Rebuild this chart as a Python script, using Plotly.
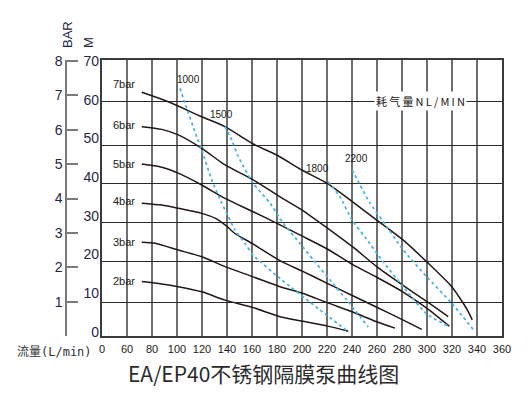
import plotly.graph_objects as go

# ---------------- data ----------------
x_tickvals = [40, 60, 80, 100, 120, 140, 160, 180, 200, 220, 240, 260, 280, 300, 320, 340, 360]
x_ticktext = ["0", "60", "80", "100", "120", "140", "160", "180", "200", "220", "240", "260",
              "280", "300", "320", "340", "360"]
m_ticks = [0, 10, 20, 30, 40, 50, 60, 70]
bar_ticks = [0, 1, 2, 3, 4, 5, 6, 7, 8]
bar_ticktext = ["", "1", "2", "3", "4", "5", "6", "7", "8"]
grid_m = [8.62, 19.02, 28.91, 38.80, 48.19, 59.35]

bar7_x = [71.8, 93.0, 119.8, 138.4, 161.0, 179.8, 199.8, 220.2, 238.4, 259.8, 281.0, 299.8, 319.8, 329.0, 333.0, 336.2]
bar7_y = [61.8, 59.4, 55.6, 53.1, 48.7, 45.9, 42.1, 38.7, 34.5, 29.4, 24.3, 18.8, 12.5, 8.3, 6.2, 4.1]
bar6_x = [71.8, 87.8, 101.0, 119.8, 138.4, 161.0, 182.4, 199.8, 220.6, 240.6, 259.8, 280.6, 300.0, 317.0]
bar6_y = [53.1, 52.4, 51.0, 47.6, 43.4, 39.6, 35.3, 32.0, 27.3, 22.6, 17.6, 12.9, 8.7, 4.9]
bar5_x = [71.8, 87.8, 101.0, 119.8, 138.4, 161.0, 182.4, 199.8, 220.6, 240.6, 259.8, 280.6, 300.0, 317.8]
bar5_y = [43.6, 42.8, 41.3, 38.3, 34.9, 31.5, 28.2, 25.4, 22.0, 18.1, 14.9, 11.2, 7.0, 2.5]
bar4_x = [71.8, 87.8, 101.0, 119.8, 130.4, 138.4, 146.4, 161.0, 182.4, 199.8, 220.6, 240.6, 259.8, 280.6, 295.8]
bar4_y = [33.7, 33.2, 32.4, 31.1, 29.9, 28.2, 26.0, 23.3, 19.1, 16.5, 13.3, 10.2, 7.3, 4.1, 1.7]
bar3_x = [71.8, 82.4, 101.0, 119.8, 138.4, 161.0, 182.4, 199.8, 220.6, 240.6, 259.8, 274.4]
bar3_y = [23.8, 23.5, 21.8, 20.1, 17.6, 15.0, 12.5, 10.9, 8.4, 6.1, 3.6, 2.0]
bar2_x = [71.8, 87.8, 101.0, 119.8, 138.4, 161.0, 182.4, 199.8, 220.6, 237.0]
bar2_y = [13.8, 13.2, 12.5, 11.2, 9.1, 7.2, 4.9, 3.8, 2.5, 1.2]
bar_names = ["7bar", "6bar", "5bar", "4bar", "3bar", "2bar"]
bar_label_y = [63.9, 53.5, 43.7, 34.2, 23.8, 13.9]

air1000_x = [102.4, 106.4, 115.8, 119.8, 127.8, 135.8, 141.0, 146.4, 154.4, 161.0, 182.4, 214.4, 237.0]
air1000_y = [62.8, 59.0, 50.5, 47.2, 39.6, 33.7, 30.3, 26.9, 23.5, 20.5, 14.6, 6.6, 1.1]
air1500_x = [138.4, 143.8, 149.0, 161.0, 174.4, 185.0, 198.4, 209.0, 222.4, 235.8, 253.0]
air1500_y = [53.1, 49.7, 45.5, 38.7, 33.7, 28.6, 23.5, 19.3, 14.2, 9.1, 2.3]
air1800_x = [221.0, 230.4, 240.0, 250.4, 263.8, 279.8, 299.8, 317.0]
air1800_y = [39.1, 35.3, 29.4, 25.1, 19.3, 12.9, 5.6, 2.5]
air2200_x = [240.2, 246.4, 254.4, 265.0, 281.0, 299.8, 319.8, 338.4]
air2200_y = [42.1, 38.3, 33.7, 29.0, 21.8, 15.0, 8.3, 1.1]
air_names = ["1000", "1500", "1800", "2200"]
air_label_x = [109.4, 135.2, 212.0, 243.2]
air_label_y = [65.1, 56.2, 42.4, 45.1]

# ---------------- figure ----------------
W, H = 530, 397
ML, MR, MT, MB = 40, 28, 60, 61
PW = W - ML - MR
PH = H - MT - MB


def px_x(p):
    return (p - ML) / PW


def px_y(p):
    return (H - MB - p) / PH


ink = "#231815"
navy = "#1f2747"
blue = "#4db2e6"
latin = "Liberation Sans, Arial, sans-serif"
cjk = "Noto Sans CJK SC, sans-serif"

fig = go.Figure()

bars = [(bar7_x, bar7_y), (bar6_x, bar6_y), (bar5_x, bar5_y),
        (bar4_x, bar4_y), (bar3_x, bar3_y), (bar2_x, bar2_y)]
for (xs, ys), name in zip(bars, bar_names):
    fig.add_trace(go.Scatter(x=xs, y=ys, mode="lines", name=name,
                             line=dict(color=ink, width=1.5, shape="spline", smoothing=0.7),
                             showlegend=False, hoverinfo="skip"))

airs = [(air1000_x, air1000_y), (air1500_x, air1500_y),
        (air1800_x, air1800_y), (air2200_x, air2200_y)]
for (xs, ys), name in zip(airs, air_names):
    fig.add_trace(go.Scatter(x=xs, y=ys, mode="lines", name=name,
                             line=dict(color=blue, width=1.8, dash="dot", shape="spline", smoothing=0.5),
                             showlegend=False, hoverinfo="skip"))

# dummy traces so the extra label axes are drawn
fig.add_trace(go.Scatter(x=[None], y=[None], yaxis="y2", showlegend=False, hoverinfo="skip"))
fig.add_trace(go.Scatter(x=[None], y=[None], yaxis="y3", showlegend=False, hoverinfo="skip"))

for name, yv in zip(bar_names, bar_label_y):
    fig.add_annotation(x=68, y=yv, text=name, showarrow=False, xanchor="right", yanchor="middle",
                       font=dict(family=latin, size=11, color=ink))
for name, xv, yv in zip(air_names, air_label_x, air_label_y):
    fig.add_annotation(x=xv, y=yv, text=name, showarrow=False, xanchor="center", yanchor="middle",
                       font=dict(family=latin, size=10, color=ink))

fig.add_annotation(x=294.4, y=59.6, text="耗\u2009气\u2009量\u2009N\u2009L\u2009/\u2009M\u2009I\u2009N",
                   showarrow=False, xanchor="center", yanchor="middle", bgcolor="white",
                   borderpad=1, font=dict(family=cjk, size=11, color=ink))

fig.add_annotation(xref="paper", yref="paper", x=px_x(67), y=px_y(35), text="BAR", textangle=-90,
                   showarrow=False, xanchor="center", yanchor="middle",
                   font=dict(family=latin, size=13, color=navy))
fig.add_annotation(xref="paper", yref="paper", x=px_x(89), y=px_y(43), text="M", textangle=-90,
                   showarrow=False, xanchor="center", yanchor="middle",
                   font=dict(family=latin, size=13, color=navy))
fig.add_annotation(xref="paper", yref="paper", x=px_x(54), y=px_y(352), text="流量(L/min)",
                   showarrow=False, xanchor="center", yanchor="middle",
                   font=dict(family="DejaVu Sans Mono, Noto Sans CJK SC, monospace", size=12, color="#333333"))
fig.add_annotation(xref="paper", yref="paper", x=px_x(263), y=px_y(373),
                   text="EA/EP40不锈钢隔膜泵曲线图",
                   showarrow=False, xanchor="center", yanchor="middle",
                   font=dict(family=cjk, size=21, color="#2b2b2b"))

fig.update_layout(
    width=W, height=H,
    margin=dict(l=ML, r=MR, t=MT, b=MB, pad=0),
    paper_bgcolor="white", plot_bgcolor="white",
    xaxis=dict(domain=[px_x(102), 1], range=[40, 360], tickvals=x_tickvals, ticktext=x_ticktext,
               showgrid=True, gridcolor="#6e6e6e", gridwidth=1.5, zeroline=False,
               showline=True, mirror=True, linecolor="#3a3a3a", linewidth=1.5,
               ticks="", ticklabelstandoff=2,
               tickfont=dict(family=latin, size=11, color=ink)),
    yaxis=dict(domain=[0, 1], range=[0, 70], tickvals=grid_m, showticklabels=False,
               showgrid=True, gridcolor="#2a2a2a", gridwidth=1.4, zeroline=False,
               showline=True, mirror=True, linecolor="#3a3a3a", linewidth=1.5, ticks=""),
    yaxis2=dict(overlaying="y", anchor="free", position=px_x(99), side="left",
                range=[-1.03, 70.26], tickvals=m_ticks, showgrid=False, zeroline=False,
                showline=False, ticks="", tickfont=dict(family=latin, size=14, color=navy)),
    yaxis3=dict(overlaying="y", anchor="free", position=px_x(66), side="left",
                range=[0, 8.03], tickvals=bar_ticks, ticktext=bar_ticktext, showgrid=False,
                zeroline=False, showline=True, linecolor="#7a7a7a", linewidth=1.5,
                ticks="inside", ticklen=11, tickwidth=1.5, tickcolor="#7a7a7a",
                tickfont=dict(family=latin, size=14, color=navy)),
)

fig.write_html("out.html")
